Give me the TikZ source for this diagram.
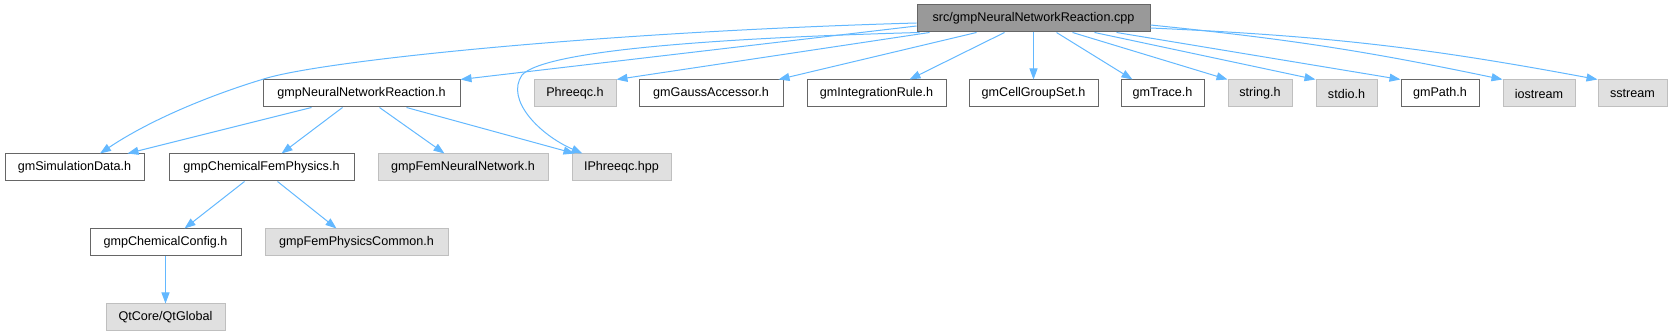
\documentclass[tikz,border=0pt]{standalone}
\usepackage{fontspec}
\setmainfont{Liberation Sans}
\usetikzlibrary{arrows.meta}
\definecolor{edgeblue}{HTML}{63B8FF}
\definecolor{docborder}{HTML}{666666}
\definecolor{undocfill}{HTML}{E0E0E0}
\definecolor{undocborder}{HTML}{BFBFBF}
\definecolor{srcfill}{HTML}{999999}
\tikzset{
  box/.style={draw, line width=1pt, inner sep=0pt, minimum height=27pt,
    font=\fontsize{12.6}{15}\selectfont, text=black},
  docbox/.style={box, fill=white, draw=docborder},
  undocbox/.style={box, fill=undocfill, draw=undocborder},
  srcbox/.style={box, fill=srcfill, draw=docborder},
  dep/.style={draw=edgeblue, line width=1pt,
    -{Triangle[length=11pt,width=8pt,fill=edgeblue]}},
}
\begin{document}
\begin{tikzpicture}[x=1pt,y=-1pt]
\useasboundingbox (0,0) rectangle (1672,336);
% top
\node[srcbox, minimum width=233pt] (src) at (1033.5,18.5) {src/gmpNeuralNetworkReaction.cpp};
% row 1
\node[docbox, minimum width=197pt] (nnr) at (361.5,93.5) {gmpNeuralNetworkReaction.h};
\node[undocbox, minimum width=82pt] (phreeqc) at (575,93.5) {Phreeqc.h};
\node[docbox, minimum width=144pt] (gauss) at (711,93.5) {gmGaussAccessor.h};
\node[docbox, minimum width=139pt] (integ) at (876.5,93.5) {gmIntegrationRule.h};
\node[docbox, minimum width=129pt] (cell) at (1033.5,93.5) {gmCellGroupSet.h};
\node[docbox, minimum width=83pt] (trace) at (1162.5,93.5) {gmTrace.h};
\node[undocbox, minimum width=64pt] (string) at (1260,93.5) {string.h};
\node[undocbox, minimum width=61pt] (stdio) at (1346.5,93.5) {stdio.h};
\node[docbox, minimum width=78pt] (path) at (1440,93.5) {gmPath.h};
\node[undocbox, minimum width=72pt] (iostream) at (1539,93.5) {iostream};
\node[undocbox, minimum width=69pt] (sstream) at (1632.5,93.5) {sstream};
% row 2
\node[docbox, minimum width=139pt] (simdata) at (74.5,167.5) {gmSimulationData.h};
\node[docbox, minimum width=185pt] (chemfem) at (261.5,167.5) {gmpChemicalFemPhysics.h};
\node[undocbox, minimum width=170pt] (femnn) at (463,167.5) {gmpFemNeuralNetwork.h};
\node[undocbox, minimum width=99pt] (iphreeqc) at (621.5,167.5) {IPhreeqc.hpp};
% row 3
\node[docbox, minimum width=151pt] (chemcfg) at (165.5,242.5) {gmpChemicalConfig.h};
\node[undocbox, minimum width=183pt] (femcommon) at (356.5,242.5) {gmpFemPhysicsCommon.h};
% row 4
\node[undocbox, minimum width=119pt] (qt) at (165.5,317.5) {QtCore/QtGlobal};

% edges from src
\draw[dep] ([yshift=-4.5pt]src.west) .. controls (600,32) and (330,60) .. (267,78)
  .. controls (210,95) and (150,120) .. ([xshift=95.5pt]simdata.north west);
\draw[dep] ([yshift=-7.5pt]src.west) -- (nnr.north east);
\draw[dep] ([xshift=3pt]src.south west) .. controls (720,38) and (545,50) .. (522,75)
  .. controls (505,100) and (540,135) .. ([xshift=11pt]iphreeqc.north west);
\draw[dep] ([xshift=13pt]src.south west) -- (phreeqc.north east);
\draw[dep] ([xshift=60pt]src.south west) -- ([xshift=-5pt]gauss.north east);
\draw[dep] ([xshift=88pt]src.south west) -- ([xshift=103pt]integ.north west);
\draw[dep] (src.south) -- (cell.north);
\draw[dep] ([xshift=140pt]src.south west) -- ([xshift=12pt]trace.north west);
\draw[dep] ([xshift=156pt]src.south west) -- (string.north west);
\draw[dep] ([xshift=178pt]src.south west) -- (stdio.north west);
\draw[dep] ([xshift=200pt]src.south west) -- (path.north west);
\draw[dep] ([yshift=-6.5pt]src.east) to[bend left=3] (iostream.north west);
\draw[dep] ([yshift=-9.5pt]src.east) to[bend left=4] (sstream.north west);
% edges from nnr
\draw[dep] ([xshift=49pt]nnr.south west) -- ([xshift=123pt]simdata.north west);
\draw[dep] ([xshift=80pt]nnr.south west) -- ([xshift=113pt]chemfem.north west);
\draw[dep] ([xshift=117pt]nnr.south west) -- ([xshift=67pt]femnn.north west);
\draw[dep] ([xshift=144pt]nnr.south west) -- ([xshift=3pt]iphreeqc.north west);
% edges from chemfem
\draw[dep] ([xshift=76pt]chemfem.south west) -- ([xshift=95pt]chemcfg.north west);
\draw[dep] ([xshift=109pt]chemfem.south west) -- ([xshift=72pt]femcommon.north west);
% chemcfg -> qt
\draw[dep] (chemcfg.south) -- (qt.north);
\end{tikzpicture}
\end{document}
